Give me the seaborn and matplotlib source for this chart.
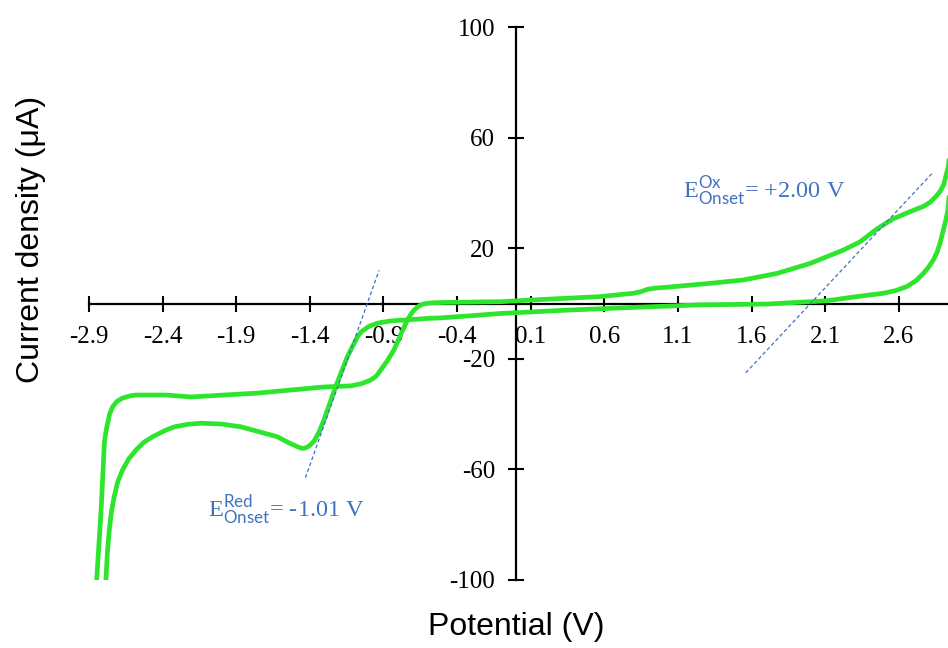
import matplotlib
matplotlib.use("Agg")
import matplotlib.pyplot as plt
import numpy as np
import pandas as pd
import seaborn as sns

# Cyclic voltammogram, traced as one closed loop (reverse branch first)
potential = [
    2.975, 2.965, 2.950, 2.934, 2.914, 2.880, 2.860, 2.834, 2.800, 2.767,
    2.720, 2.654, 2.580, 2.495, 2.300, 2.113, 1.706, 1.252, 0.797, 0.349,
    -0.105, -0.300, -0.512, -0.600, -0.736, -0.850, -0.919, -0.950, -1.000, -1.050,
    -1.077, -1.100, -1.145, -1.225, -1.304, -1.340, -1.372, -1.400, -1.420, -1.440,
    -1.460, -1.484, -1.550, -1.620, -1.869, -2.000, -2.140, -2.230, -2.320, -2.378,
    -2.468, -2.530, -2.581, -2.630, -2.672, -2.705, -2.729, -2.748, -2.762, -2.775,
    -2.785, -2.800, -2.830, -2.860, -2.848, -2.818, -2.795, -2.787, -2.780, -2.760,
    -2.739, -2.710, -2.672, -2.620, -2.581, -2.378, -2.208, -1.754, -1.306, -1.123,
    -1.050, -0.987, -0.950, -0.919, -0.875, -0.829, -0.785, -0.738, -0.710, -0.693,
    -0.660, -0.630, -0.602, -0.550, -0.465, -0.105, 0.119, 0.573, 0.797, 0.850,
    0.892, 0.950, 1.028, 1.320, 1.543, 1.774, 1.998, 2.222, 2.337, 2.452,
    2.561, 2.676, 2.770, 2.812, 2.850, 2.880, 2.905, 2.934, 2.955, 2.975,
]
current = [
    68.0, 58.0, 45.0, 33.8, 29.0, 21.8, 18.6, 15.7, 13.0, 10.9,
    8.4, 6.1, 4.7, 3.7, 2.4, 1.0, -0.2, -0.5, -1.4, -2.4,
    -3.6, -4.4, -5.2, -5.4, -5.9, -6.3, -6.9, -7.3, -8.3, -10.2,
    -12.0, -14.5, -19.2, -30.1, -42.1, -46.8, -49.8, -51.3, -52.0, -52.4,
    -52.3, -51.8, -50.2, -48.2, -44.6, -43.6, -43.3, -43.7, -44.6, -45.8,
    -48.2, -50.3, -53.0, -56.2, -60.2, -64.5, -69.9, -75.5, -81.9, -90.0,
    -100.0, -118.0, -125.0, -118.0, -100.0, -75.0, -50.0, -47.0, -45.0, -40.0,
    -37.3, -35.4, -34.2, -33.4, -33.1, -33.1, -33.8, -32.4, -30.2, -29.8,
    -29.0, -27.7, -26.3, -24.1, -20.8, -16.8, -11.5, -6.0, -3.6, -2.4,
    -0.9, -0.2, 0.1, 0.3, 0.4, 0.65, 1.3, 2.5, 3.7, 4.3,
    5.1, 5.6, 5.9, 7.3, 8.5, 10.9, 14.5, 19.3, 22.3, 27.0,
    30.6, 33.2, 35.2, 36.6, 38.6, 40.5, 43.0, 49.0, 58.0, 68.0,
]

x_ticks = [-2.9, -2.4, -1.9, -1.4, -0.9, -0.4, 0.1, 0.6, 1.1, 1.6, 2.1, 2.6]
y_ticks = [-100, -60, -20, 20, 60, 100]

# Onset potentials (V) and slopes (uA/V) of the tangent construction
red_onset, red_slope, red_span = -1.01, 150.0, (-1.43, -0.93)
ox_onset, ox_slope, ox_span = 2.00, 57.0, (1.56, 2.83)

sns.set_style("white")
plt.rcParams["font.family"] = ["Liberation Serif", "DejaVu Serif"]
plt.rcParams["mathtext.fontset"] = "custom"
plt.rcParams["mathtext.rm"] = "Liberation Serif"
plt.rcParams["mathtext.sf"] = "Lato"

fig = plt.figure(figsize=(9.48, 6.48), dpi=100)
ax = fig.add_axes([89 / 948, 1 - 580 / 648, 859 / 948, 553 / 648])

cv = pd.DataFrame({"Potential": potential, "Current": current})
sns.lineplot(data=cv, x="Potential", y="Current", sort=False, estimator=None,
             color="#2ee52e", linewidth=3.4, ax=ax, zorder=3)
for ln in ax.lines:
    ln.set_solid_joinstyle("round")
    ln.set_solid_capstyle("round")

# Tangent lines through the onset points
blue = "#3f72bf"
for onset, slope, span in [(red_onset, red_slope, red_span),
                           (ox_onset, ox_slope, ox_span)]:
    xs = np.array(span)
    sns.lineplot(x=xs, y=slope * (xs - onset), color=blue, linewidth=0.9,
                 linestyle=(0, (3, 2)), ax=ax, zorder=4)

ax.text(-2.093, -77.2,
        r"$\mathrm{E}^{\mathsf{Red}}_{\mathsf{Onset}}$" + f"= {red_onset:.2f} V",
        color=blue, fontsize=17.5, va="baseline", ha="left")
ax.text(1.136, 38.2,
        r"$\mathrm{E}^{\mathsf{Ox}}_{\mathsf{Onset}}$" + f"= +{ox_onset:.2f} V",
        color=blue, fontsize=17.5, va="baseline", ha="left")

ax.set_xlim(-2.9, 2.934)
ax.set_ylim(-100, 100)
ax.set_xticks(x_ticks)
ax.set_xticklabels([f"{t:.1f}" for t in x_ticks])
ax.set_yticks(y_ticks)
ax.set_yticklabels([f"{t}" for t in y_ticks])

for side in ["top", "right"]:
    ax.spines[side].set_visible(False)
ax.spines["left"].set_position(("data", 0))
ax.spines["bottom"].set_position(("data", 0))
for side in ["left", "bottom"]:
    ax.spines[side].set_color("black")
    ax.spines[side].set_linewidth(1.6)
    ax.spines[side].set_zorder(2)

ax.tick_params(axis="both", which="major", bottom=True, left=True,
               direction="inout", length=12, width=1.5,
               color="black", labelsize=18, labelcolor="black")
ax.tick_params(axis="x", pad=10)
ax.tick_params(axis="y", pad=9)

ax.set_xlabel("Potential (V)", fontfamily="Liberation Sans", fontsize=23,
              color="black")
ax.set_ylabel("Current density (μA)", fontfamily="Liberation Sans",
              fontsize=23, color="black")
ax.xaxis.set_label_coords(0.497, -0.058)
ax.yaxis.set_label_coords(-0.05, 0.615)
ax.grid(False)

fig.savefig("out.png", dpi=100)
